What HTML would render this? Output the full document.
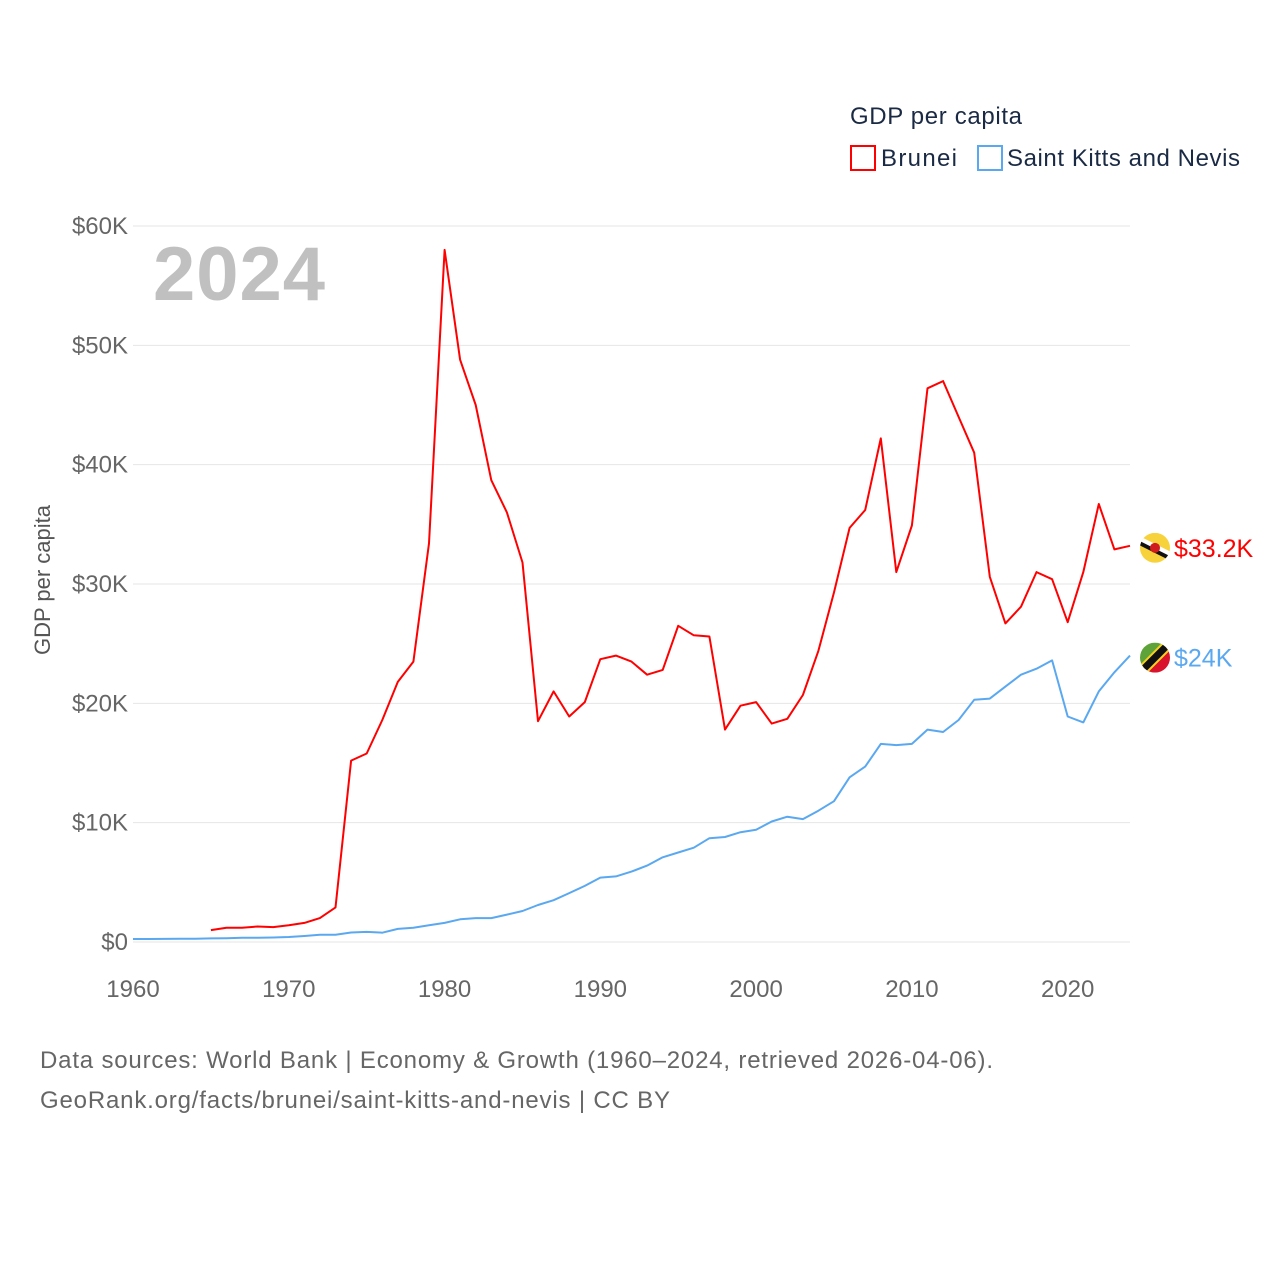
<!DOCTYPE html>
<html><head><meta charset="utf-8">
<style>
body{margin:0;background:#fff;font-family:"Liberation Sans",sans-serif;}
svg text{font-family:"Liberation Sans",sans-serif;}
</style></head>
<body>
<svg width="1280" height="1280" viewBox="0 0 1280 1280">
<g id="grid"></g>
<text x="153" y="300" font-size="76" font-weight="bold" fill="#c0c0c0" textLength="172">2024</text>
<text transform="translate(50,580) rotate(-90)" text-anchor="middle" font-size="22" fill="#555">GDP per capita</text>
<g>
<text x="850" y="124" font-size="24" fill="#1a2a44" textLength="172">GDP per capita</text>
<rect x="851" y="146" width="24" height="24" fill="none" stroke="#f00" stroke-width="2"/>
<text x="881" y="166" font-size="24" fill="#1a2a44" textLength="76">Brunei</text>
<rect x="978" y="146" width="24" height="24" fill="none" stroke="#5aa8f0" stroke-width="2"/>
<text x="1007" y="166" font-size="24" fill="#1a2a44" textLength="233">Saint Kitts and Nevis</text>
</g>
<g id="series"></g>
<text x="40" y="1068" font-size="24" fill="#666" textLength="953">Data sources: World Bank | Economy &amp; Growth (1960–2024, retrieved 2026-04-06).</text>
<text x="40" y="1108" font-size="24" fill="#666" textLength="630">GeoRank.org/facts/brunei/saint-kitts-and-nevis | CC BY</text>
</svg>
<script>
const yTicks=[0,10,20,30,40,50,60];
const xTicks=[1960,1970,1980,1990,2000,2010,2020];
const bruneiStart=1965;
const bruneiValues=[1.0,1.2,1.2,1.3,1.25,1.4,1.6,2.0,2.9,15.2,15.8,18.6,21.8,23.5,33.4,58.0,48.8,45.0,38.7,36.0,31.8,18.5,21.0,18.9,20.1,23.7,24.0,23.5,22.4,22.8,26.5,25.7,25.6,17.8,19.8,20.1,18.3,18.7,20.7,24.4,29.3,34.7,36.2,42.2,31.0,34.9,46.4,47.0,44.0,41.0,30.6,26.7,28.1,31.0,30.4,26.8,31.0,36.7,32.9,33.2];
const sknStart=1960;
const sknValues=[0.25,0.25,0.26,0.27,0.28,0.3,0.32,0.35,0.35,0.38,0.42,0.5,0.6,0.6,0.8,0.85,0.78,1.1,1.2,1.4,1.6,1.9,2.0,2.0,2.3,2.6,3.1,3.5,4.1,4.7,5.4,5.5,5.9,6.4,7.1,7.5,7.9,8.7,8.8,9.2,9.4,10.1,10.5,10.3,11.0,11.8,13.8,14.7,16.6,16.5,16.6,17.8,17.6,18.6,20.3,20.4,21.4,22.4,22.9,23.6,18.9,18.4,21.0,22.6,24.0];
const NS='http://www.w3.org/2000/svg';
const X=y=>133+(y-1960)*(1130-133)/64;
const Y=v=>942-v*(942-226)/60;
function mk(tag,attrs,parent){const e=document.createElementNS(NS,tag);for(const k in attrs)e.setAttribute(k,attrs[k]);parent.appendChild(e);return e;}
const grid=document.getElementById('grid');
yTicks.forEach(t=>{
  const l=mk('line',{x1:133,x2:1130,y1:Y(t),y2:Y(t),stroke:'#e6e6e6','stroke-width':1},grid);
  
  
  const tx=mk('text',{x:128,y:Y(t)+8,'text-anchor':'end','font-size':24,fill:'#666'},grid);
  tx.textContent=t===0?'$0':'$'+t+'K';
  
  
});
xTicks.forEach(t=>{
  const tx=mk('text',{x:X(t),y:997,'text-anchor':'middle','font-size':24,fill:'#666'},grid);
  tx.textContent=t;
  
  
});
const s=document.getElementById('series');
function line(vals,start,color,name){
  const d=vals.map((v,i)=>(i?'L':'M')+X(start+i).toFixed(1)+','+Y(v).toFixed(1)).join('');
  const p=mk('path',{d:d,fill:'none',stroke:color,'stroke-width':2,'stroke-linejoin':'round'},s);
  
  
}
line(sknValues,sknStart,'#5aa8f0','line-saint-kitts');
line(bruneiValues,bruneiStart,'#f00','line-brunei');
function endLabel(vals,start,color,name,flag){
  const v=vals[vals.length-1],cx=X(start+vals.length-1)+25,cy=Y(v)+2;
  const g=mk('g',{},s);
  
  
  const cp=mk('clipPath',{id:'c'+name},g);
  mk('circle',{cx:cx,cy:cy,r:15},cp);
  const cg=mk('g',{'clip-path':'url(#c'+name+')'},g);
  if(flag==='bn'){
    mk('rect',{x:cx-15,y:cy-15,width:30,height:30,fill:'#f7d23a'},cg);
    mk('line',{x1:cx-16,y1:cy-8,x2:cx+16,y2:cy+8,stroke:'#fff','stroke-width':7},cg);
    mk('line',{x1:cx-16,y1:cy-5,x2:cx+16,y2:cy+11,stroke:'#111','stroke-width':4},cg);
    mk('circle',{cx:cx,cy:cy,r:5,fill:'#d01c1f'},cg);
  } else {
    mk('path',{d:`M${cx-15},${cy-15}H${cx+15}L${cx-15},${cy+15}Z`,fill:'#5ea33a'},cg);
    mk('path',{d:`M${cx+15},${cy-15}V${cy+15}H${cx-15}Z`,fill:'#d8132b'},cg);
    mk('line',{x1:cx-16,y1:cy+16,x2:cx+16,y2:cy-16,stroke:'#f6d21e','stroke-width':11},cg);
    mk('line',{x1:cx-16,y1:cy+16,x2:cx+16,y2:cy-16,stroke:'#111','stroke-width':7},cg);
  }
  const t=mk('text',{x:cx+19,y:cy+9,'font-size':25,fill:color},s);
  t.textContent='$'+(Math.round(v*10)/10)+'K';
  
  
}
endLabel(bruneiValues,bruneiStart,'#f00','brunei','bn');
endLabel(sknValues,sknStart,'#5aa8f0','saint-kitts','kn');
</script>
</body></html>
